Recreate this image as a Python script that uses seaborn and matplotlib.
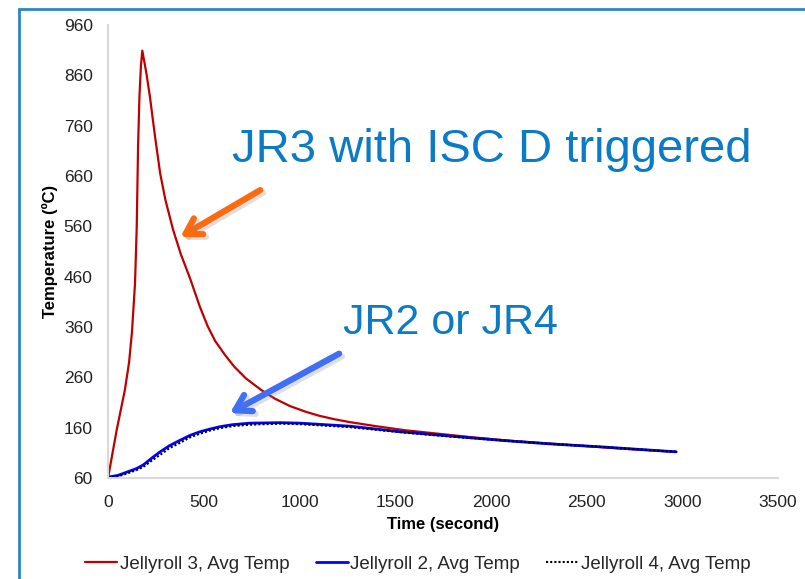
import matplotlib
matplotlib.use("Agg")
import matplotlib.pyplot as plt
import matplotlib.patheffects as pe
from matplotlib.patches import Rectangle
import seaborn as sns

# Jellyroll 3 (internal short circuit triggered)
jr3_time = [0, 45, 88, 110, 125, 141, 150, 157, 164, 172, 179, 200, 219, 245,
            272, 300, 340, 380, 430, 480, 520, 560, 610, 660, 720, 800, 870,
            950, 1030, 1100, 1180, 1264, 1400, 1550, 1700, 1900, 2100, 2400,
            2700, 2968]
jr3_temp = [60, 155, 235, 290, 350, 447, 560, 720, 817, 880, 909, 865, 817, 740,
            666, 612, 553, 505, 455, 400, 362, 332, 305, 281, 258, 235, 218,
            203, 192, 184, 177, 171, 163, 155, 149, 141, 134, 126,
            118, 112]

# Jellyroll 2 (neighbour)
jr2_time = [0, 50, 100, 150, 184, 230, 272, 320, 376, 430, 481, 530, 585, 650,
            742, 900, 1003, 1264, 1526, 1800, 2048, 2300, 2571, 2968]
jr2_temp = [62, 65, 72, 79, 86, 100, 112, 124, 135, 145, 152, 157, 162, 166,
            169, 170, 169, 163, 152, 143, 135, 128, 122, 112]

# Jellyroll 4 (neighbour)
jr4_time = [0, 50, 100, 150, 184, 230, 272, 320, 376, 430, 481, 530, 585, 650,
            742, 900, 1003, 1264, 1526, 1800, 2048, 2300, 2571, 2968]
jr4_temp = [60, 63, 69, 76, 82, 95, 106, 119, 130, 141, 148, 154, 159, 163,
            166, 168, 167, 161, 151, 142, 135, 128, 122, 112]

x_ticks = [0, 500, 1000, 1500, 2000, 2500, 3000, 3500]
y_ticks = [60, 160, 260, 360, 460, 560, 660, 760, 860, 960]

sns.set_theme(style="white")
plt.rcParams["font.family"] = ["Liberation Sans", "DejaVu Sans"]

fig = plt.figure(figsize=(8.05, 5.79), dpi=100)
ax = fig.add_axes([0.1342, 0.1744, 0.8323, 0.7824])

sns.lineplot(x=jr3_time, y=jr3_temp, ax=ax, color="#C00000", lw=1.6,
             label="Jellyroll 3, Avg Temp")
sns.lineplot(x=jr2_time, y=jr2_temp, ax=ax, color="#0000FF", lw=2.0,
             label="Jellyroll 2, Avg Temp")
sns.lineplot(x=jr4_time, y=jr4_temp, ax=ax, color="black", lw=1.5,
             linestyle=(0, (1, 1)), label="Jellyroll 4, Avg Temp")

ax.set_xlim(0, 3500)
ax.set_ylim(60, 960)
ax.set_xticks(x_ticks)
ax.set_yticks(y_ticks)
ax.tick_params(axis="y", length=0, labelsize=12.5, colors="#222222", pad=11)
ax.tick_params(axis="x", length=0, labelsize=12.5, colors="#222222", pad=12)
for side in ("top", "right"):
    ax.spines[side].set_visible(False)
for side in ("left", "bottom"):
    ax.spines[side].set_color("#D9D9D9")
    ax.spines[side].set_linewidth(1.5)

ax.set_xlabel("Time (second)", fontsize=12, fontweight="bold", color="black", labelpad=5)
ax.set_ylabel("Temperature (ºC)", fontsize=12, fontweight="bold", color="black", labelpad=4)

ax.legend(loc="center", bbox_to_anchor=(418 / 805, 1 - 564 / 579),
          bbox_transform=fig.transFigure, ncol=3, frameon=False, fontsize=13.5,
          handlelength=1.7, handletextpad=0.15, columnspacing=1.4)

# callouts
fig.text(232 / 805, 1 - 150 / 579, "JR3 with ISC D triggered", fontsize=34,
         color="#0C7BC5", va="center", ha="left")
fig.text(343 / 805, 1 - 323 / 579, "JR2 or JR4", fontsize=31,
         color="#0C7BC5", va="center", ha="left")

shadow = [pe.SimpleLineShadow(offset=(2, -2), alpha=0.25, shadow_color="gray"), pe.Normal()]
ax.annotate("", xy=(378, 539), xytext=(795, 632),
            arrowprops=dict(arrowstyle="->,head_length=0.9,head_width=0.55",
                            color="#FF6A0F", lw=4.5, shrinkA=0, shrinkB=0,
                            path_effects=shadow))
ax.annotate("", xy=(637, 189), xytext=(1207, 307),
            arrowprops=dict(arrowstyle="->,head_length=0.9,head_width=0.55",
                            color="#3F6EF7", lw=4.5, shrinkA=0, shrinkB=0,
                            path_effects=shadow))

# outer slide frame
fig.patches.append(Rectangle((19 / 805, -0.1), 1.2, 1 - 9 / 579 + 0.1,
                             transform=fig.transFigure, fill=False,
                             edgecolor="#2A86C9", lw=2.0))

fig.savefig("out.png", dpi=100)
